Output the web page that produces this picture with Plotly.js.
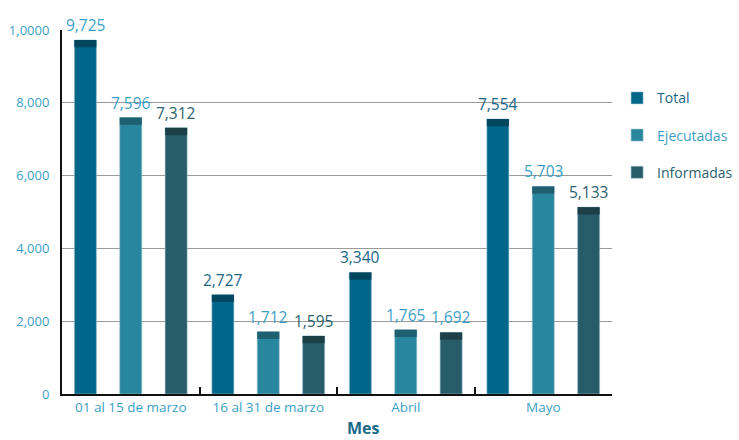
<!DOCTYPE html>
<html><head><meta charset="utf-8">
<script src="https://cdn.plot.ly/plotly-3.0.1.min.js"></script>
<style>body{margin:0;background:#fff}#c{width:739px;height:440px}</style>
</head><body><div id="c"></div>
<script>
const categories = ["01 al 15 de marzo", "16 al 31 de marzo", "Abril", "Mayo"];
const total = [9725, 2727, 3340, 7554];
const ejecutadas = [7596, 1712, 1765, 5703];
const informadas = [7312, 1595, 1692, 5133];
const yTickVals = [0, 2000, 4000, 6000, 8000, 10000];
const yTickText = ["0", "2,000", "4,000", "6,000", "8,000", "1,0000"];

const LIGHT = "#3d9fc6", DARKB = "#1b6585", SLATE = "#2d5f6d";
const fmt = v => v.toLocaleString("en-US");
const series = [
  {name: "Total", y: total, color: "#00668a", cap: "#00465f", off: -0.41, tc: [LIGHT, DARKB, DARKB, DARKB], lc: DARKB},
  {name: "Ejecutadas", y: ejecutadas, color: "#28869f", cap: "#1f6070", off: -0.08, tc: [LIGHT, LIGHT, LIGHT, LIGHT], lc: LIGHT},
  {name: "Informadas", y: informadas, color: "#285c69", cap: "#1c3f48", off: 0.25, tc: [SLATE, SLATE, LIGHT, SLATE], lc: SLATE}
];
const CAP = 200, W = 0.16;
const traces = [];
const annotations = [];
series.forEach((s, i) => {
  traces.push({
    type: "bar", x: categories, y: s.y, offset: s.off, width: W,
    name: '<span style="color:' + s.lc + '">' + s.name + '</span>',
    legendgroup: "g" + i,
    marker: {color: s.color, line: {color: "rgba(150,190,200,0.6)", width: 1}},
    hoverinfo: "y"
  });
  traces.push({
    type: "bar", x: categories, y: s.y.map(() => CAP), base: s.y.map(v => v - CAP),
    offset: s.off, width: W, showlegend: false, legendgroup: "g" + i,
    marker: {color: s.cap, line: {width: 0}}, hoverinfo: "skip"
  });
  s.y.forEach((v, j) => {
    annotations.push({
      x: j + s.off + W / 2, y: v, xref: "x", yref: "y",
      text: fmt(v), showarrow: false, xanchor: "center", yanchor: "bottom", yshift: 2,
      font: {family: "Open Sans, sans-serif", size: 15.5, color: s.tc[j]}
    });
  });
});
annotations.push({
  text: "<b>Mes</b>", xref: "paper", yref: "paper", x: 0.5475, y: 0, yshift: -34,
  xanchor: "center", yanchor: "middle", showarrow: false,
  font: {size: 16, color: "#1a6a8a", family: "Open Sans, sans-serif"}
});

const layout = {
  width: 739, height: 440,
  margin: {l: 62, r: 127, t: 30, b: 46, autoexpand: false},
  barmode: "overlay",
  paper_bgcolor: "#fff", plot_bgcolor: "#fff",
  font: {family: "Open Sans, sans-serif", color: LIGHT},
  xaxis: {
    type: "category", showline: true, linecolor: "#111", linewidth: 2,
    ticks: "inside", tickson: "boundaries", ticklen: 7, tickwidth: 2, tickcolor: "#111",
    tickfont: {size: 13.5, color: LIGHT}, showgrid: false, zeroline: false,
    range: [-0.5, 3.5]
  },
  yaxis: {
    range: [0, 10000], tickvals: yTickVals, ticktext: yTickText,
    showline: true, linecolor: "#111", linewidth: 2,
    showgrid: true, gridcolor: "#9a9a9a", gridwidth: 1, zeroline: false,
    tickfont: {size: 13, color: LIGHT}, ticks: "", ticklabelstandoff: 8
  },
  legend: {
    xref: "container", yref: "container",
    x: 0.835, y: 0.813, xanchor: "left", yanchor: "top",
    font: {size: 14, family: "Open Sans, sans-serif"},
    tracegroupgap: 16, itemwidth: 30
  },
  annotations: annotations,
  showlegend: true
};
Plotly.newPlot("c", traces, layout, {displayModeBar: false});
</script></body></html>
